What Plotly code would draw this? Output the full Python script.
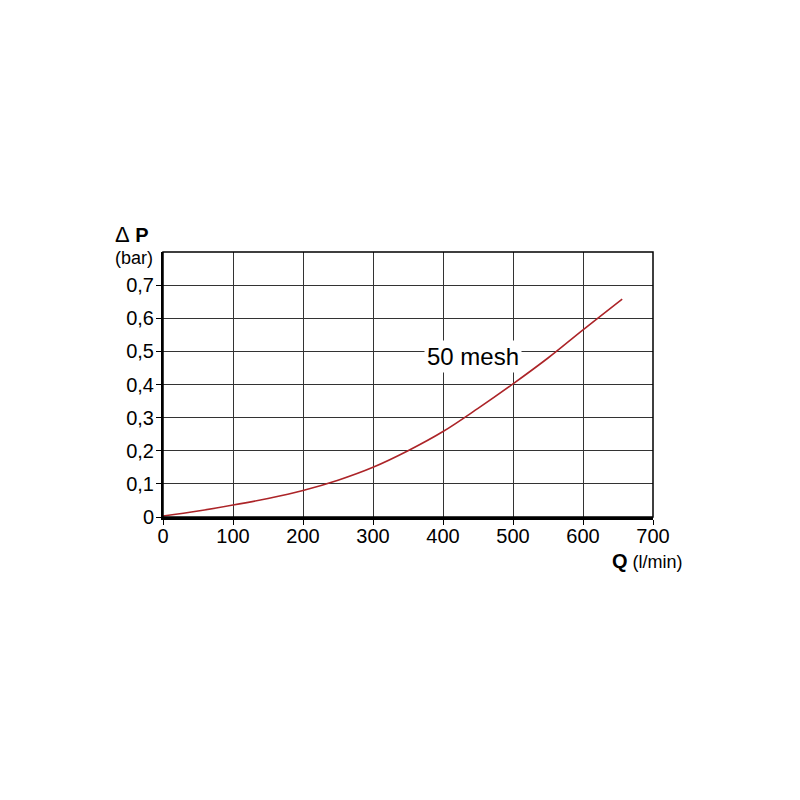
import plotly.graph_objects as go

flow = [0, 50, 100, 150, 200, 250, 300, 350, 400, 450, 500, 550, 600, 656]
dp = [0.003, 0.018, 0.036, 0.056, 0.080, 0.111, 0.150, 0.200, 0.258, 0.328, 0.402, 0.480, 0.565, 0.658]

x_ticks = [0, 100, 200, 300, 400, 500, 600, 700]
y_ticks = [0, 0.1, 0.2, 0.3, 0.4, 0.5, 0.6, 0.7]
y_tick_text = ["0", "0,1", "0,2", "0,3", "0,4", "0,5", "0,6", "0,7"]
series_label = "50 mesh"

FONT = "Liberation Sans, Arial, sans-serif"

fig = go.Figure()
fig.add_trace(go.Scatter(x=flow, y=dp, mode="lines", line=dict(color="#ac2428", width=1.6, shape="spline"),
                         showlegend=False, hoverinfo="skip"))

fig.add_annotation(x=443, y=0.485, text=series_label, showarrow=False, bgcolor="white",
                   font=dict(family=FONT, size=24, color="black"), borderpad=2)

fig.add_annotation(xref="paper", yref="paper", x=0, xshift=-12, y=1.0, yshift=3, xanchor="right", yanchor="bottom",
                   text="<span style='font-size:22px'>\u0394</span> <b>P</b>", showarrow=False,
                   font=dict(family=FONT, size=20, color="black"))
fig.add_annotation(xref="paper", yref="paper", x=0, xshift=-8, y=1.0, yshift=-6, xanchor="right", yanchor="middle",
                   text="(bar)", showarrow=False, font=dict(family=FONT, size=18, color="black"))
fig.add_annotation(xref="paper", yref="paper", x=1, xshift=32, y=0, yshift=-44, xanchor="right", yanchor="middle",
                   text="<b><span style='font-size:20px'>Q</span></b> (l/min)", showarrow=False,
                   font=dict(family=FONT, size=18, color="black"))

fig.update_xaxes(range=[0, 700], tickvals=x_ticks, showgrid=True, gridcolor="#333333", gridwidth=1,
                 showline=True, linecolor="black", linewidth=3, mirror=False, ticks="outside", ticklen=5,
                 tickcolor="black", tickfont=dict(family=FONT, size=20, color="black"), zeroline=False,
                 ticklabelstandoff=-6)
fig.update_yaxes(range=[0, 0.8], tickvals=y_ticks, ticktext=y_tick_text, showgrid=True, gridcolor="#333333",
                 gridwidth=1, showline=True, linecolor="black", linewidth=2, ticks="outside", ticklen=5,
                 tickcolor="black", tickfont=dict(family=FONT, size=20, color="black"), zeroline=False,
                 ticklabelstandoff=-2)

fig.add_shape(type="rect", xref="paper", yref="paper", x0=0, y0=0, x1=1, y1=1,
              line=dict(color="black", width=1.5), layer="above")

fig.update_layout(width=800, height=800, paper_bgcolor="white", plot_bgcolor="white",
                  margin=dict(l=155, r=155, t=244, b=291), font=dict(family=FONT))

fig.write_html("out.html")
